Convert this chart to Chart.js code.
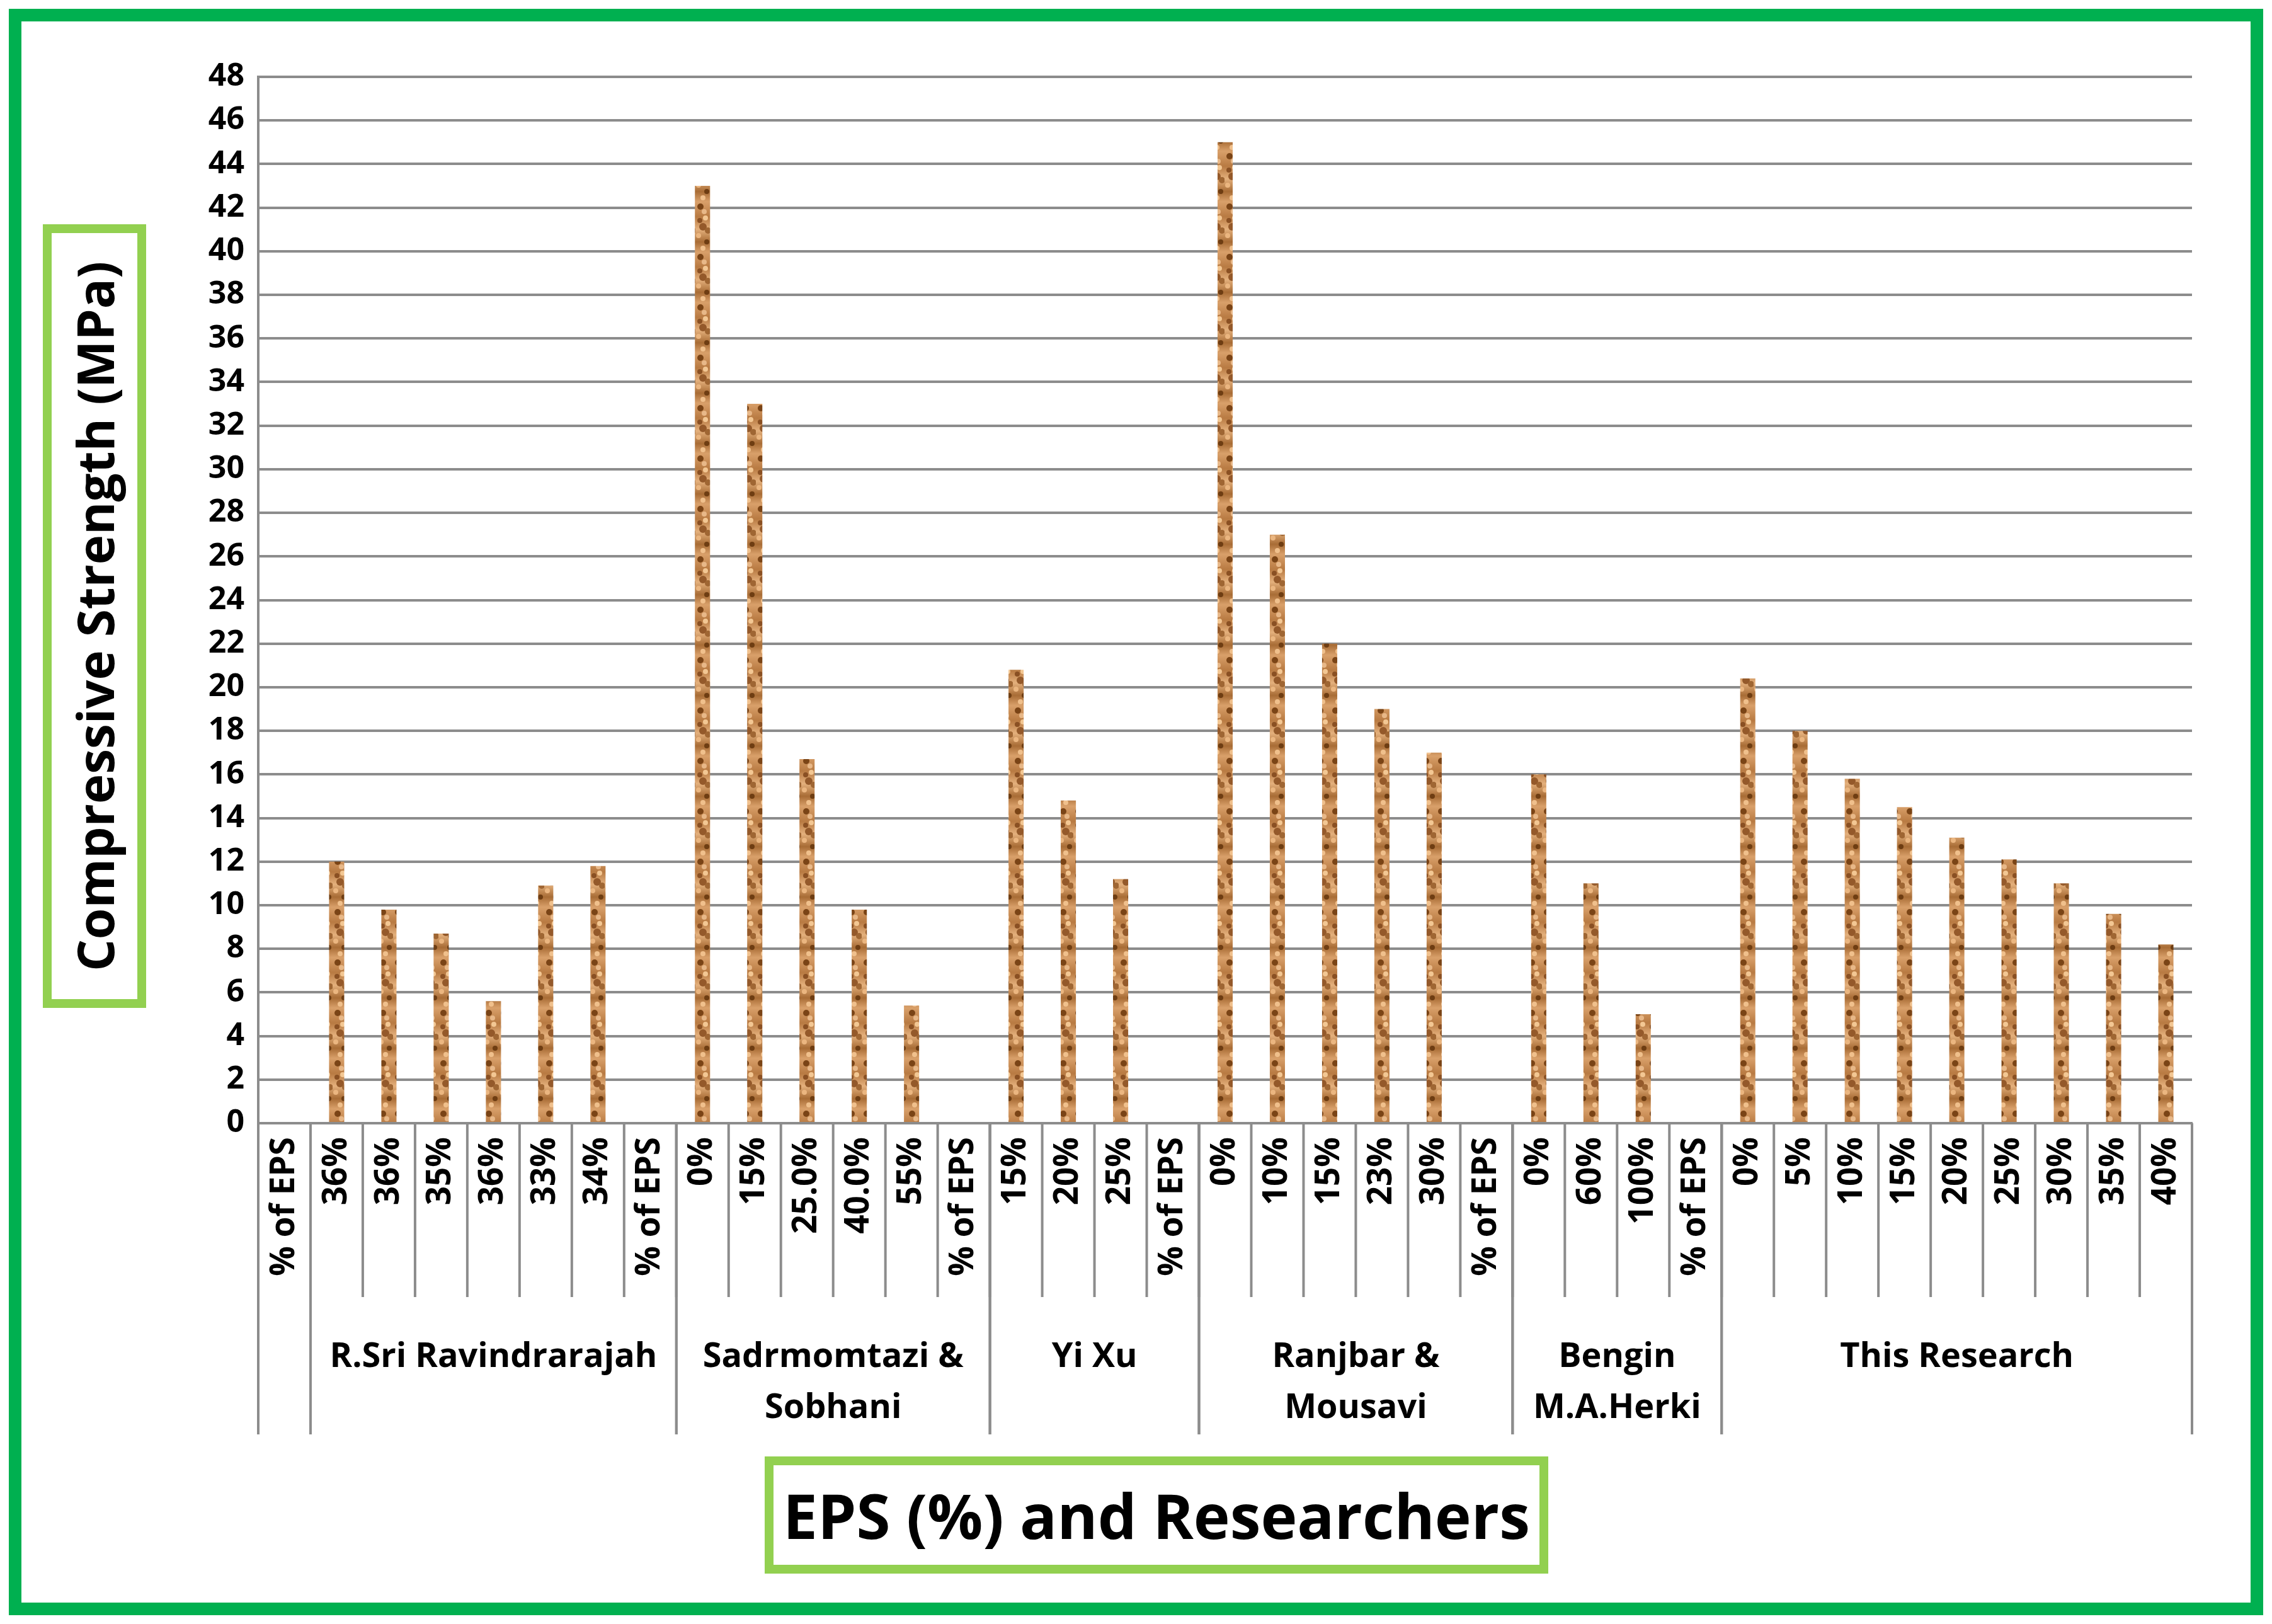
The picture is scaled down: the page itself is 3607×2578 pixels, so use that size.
<!DOCTYPE html>
<html lang="en">
<head>
<meta charset="UTF-8">
<title>EPS compressive strength</title>
<script src="https://cdn.jsdelivr.net/npm/chart.js@4.4.0/dist/chart.umd.min.js"></script>
<style>
  body { margin: 0; background: #fff; }
  .frame { position: relative; width: 3607px; height: 2578px; overflow: hidden; }
  .outer { position: absolute; left: 14px; top: 14px; right: 14px; bottom: 14px; border: 20px solid #00b050; }
  canvas { position: absolute; left: 0; top: 0; }
  .title { position: absolute; border: 14px solid #92d050; background: #fff; font-family: "Open Sans", sans-serif; font-weight: bold; color: #000; display: flex; align-items: center; justify-content: center; box-sizing: border-box; }
  .ytitle { left: 68px; top: 356px; width: 164px; height: 1244px; }
  .ytitle span { transform: rotate(-90deg); white-space: nowrap; font-size: 80px; }
  .xtitle { left: 1214px; top: 2312px; width: 1244px; height: 186px; font-size: 98px; }
</style>
</head>
<body>
<div class="frame">
  <div class="outer"></div>
  <canvas id="chart" width="3607" height="2578"></canvas>
  <div class="title ytitle"><span>Compressive Strength (MPa)</span></div>
  <div class="title xtitle">EPS (%) and Researchers</div>
</div>
<script>
// category tick labels (one per column)
const labels = ['% of EPS',
  '36%', '36%', '35%', '36%', '33%', '34%', '% of EPS',
  '0%', '15%', '25.0%', '40.0%', '55%', '% of EPS',
  '15%', '20%', '25%', '% of EPS',
  '0%', '10%', '15%', '23%', '30%', '% of EPS',
  '0%', '60%', '100%', '% of EPS',
  '0%', '5%', '10%', '15%', '20%', '25%', '30%', '35%', '40%'];

// compressive strength (MPa), null where the column is a "% of EPS" header
const strength = [null,
  12, 9.8, 8.7, 5.6, 10.9, 11.8, null,
  43, 33, 16.7, 9.8, 5.4, null,
  20.8, 14.8, 11.2, null,
  45, 27, 22, 19, 17, null,
  16, 11, 5, null,
  20.4, 18, 15.8, 14.5, 13.1, 12.1, 11, 9.6, 8.2];

// researcher groups: label lines and column count
const groupNames = [[''], ['R.Sri Ravindrarajah'], ['Sadrmomtazi &', 'Sobhani'], ['Yi Xu'],
  ['Ranjbar &', 'Mousavi'], ['Bengin', 'M.A.Herki'], ['This Research']];
const groupSizes = [1, 7, 6, 4, 6, 4, 9];

const yTicks = [0, 48, 2]; // min, max, step

// cork-like texture for the bars
function corkPattern() {
  const c = document.createElement('canvas');
  c.width = 24; c.height = 80;
  const g = c.getContext('2d');
  const grad = g.createLinearGradient(0, 0, 0, 80);
  grad.addColorStop(0, '#d9a06a'); grad.addColorStop(0.3, '#b87a42');
  grad.addColorStop(0.55, '#e4b07c'); grad.addColorStop(0.8, '#a86c35'); grad.addColorStop(1, '#d9a06a');
  g.fillStyle = grad; g.fillRect(0, 0, 24, 80);
  const spots = [[8, 8, '#7a4416', 5], [16, 26, '#f3c793', 4], [12, 40, '#94592a', 6], [5, 54, '#ebb680', 4],
    [18, 64, '#6e3d12', 4], [14, 16, '#e8b888', 4], [20, 46, '#9f6633', 5], [7, 30, '#8a5023', 4], [12, 74, '#f0c08c', 4]];
  spots.forEach(([x, y, col, r]) => {
    g.fillStyle = col;
    g.beginPath(); g.arc(x, y, r, 0, Math.PI * 2); g.fill();
  });
  return g.createPattern(c, 'repeat');
}

const AXIS_TOP = 1783, DIV_SHORT = 2059, DIV_LONG = 2277;

const groupPlugin = {
  id: 'groups',
  afterDraw(chart) {
    const x = chart.scales.x, ctx = chart.ctx;
    const half = (x.getPixelForValue(1) - x.getPixelForValue(0)) / 2;
    ctx.save();
    ctx.strokeStyle = '#8c8c8c';
    ctx.lineWidth = 4;
    // short separators between every column
    for (let i = 0; i <= labels.length; i++) {
      const px = x.getPixelForValue(i) - half;
      ctx.beginPath(); ctx.moveTo(px, AXIS_TOP); ctx.lineTo(px, DIV_SHORT); ctx.stroke();
    }
    // group dividers and names
    let start = 0;
    ctx.fillStyle = '#000';
    ctx.font = 'bold 54px "Open Sans", sans-serif';
    ctx.textAlign = 'center';
    ctx.textBaseline = 'middle';
    groupSizes.forEach((n, gi) => {
      const l = x.getPixelForValue(start) - half;
      const r = x.getPixelForValue(start + n - 1) + half;
      [l, r].forEach(px => { ctx.beginPath(); ctx.moveTo(px, AXIS_TOP); ctx.lineTo(px, DIV_LONG); ctx.stroke(); });
      groupNames[gi].forEach((t, li) => ctx.fillText(t, (l + r) / 2, 2155 + li * 81));
      start += n;
    });
    ctx.restore();
  }
};

new Chart(document.getElementById('chart'), {
  type: 'bar',
  data: {
    labels: labels,
    datasets: [{
      data: strength,
      backgroundColor: corkPattern(),
      barPercentage: 0.29,
      categoryPercentage: 1
    }]
  },
  options: {
    responsive: false,
    animation: false,
    layout: { padding: { top: 122, right: 127, bottom: 301, left: 0 } },
    plugins: { legend: { display: false }, tooltip: { enabled: false } },
    scales: {
      x: {
        afterFit(s) { s.height = DIV_LONG - AXIS_TOP; },
        grid: { display: false },
        border: { color: '#8c8c8c', width: 4 },
        ticks: {
          color: '#000', minRotation: 90, maxRotation: 90, autoSkip: false, padding: 14,
          font: { family: '"Open Sans", sans-serif', size: 53, weight: 'bold' }
        }
      },
      y: {
        min: yTicks[0], max: yTicks[1],
        afterFit(s) { s.width = 410; },
        grid: { color: '#8c8c8c', lineWidth: 4, drawTicks: false },
        border: { color: '#8c8c8c', width: 4 },
        ticks: {
          stepSize: yTicks[2], color: '#000', padding: 22,
          font: { family: '"Open Sans", sans-serif', size: 50, weight: 'bold' }
        }
      }
    }
  },
  plugins: [groupPlugin]
});
</script>
</body>
</html>
